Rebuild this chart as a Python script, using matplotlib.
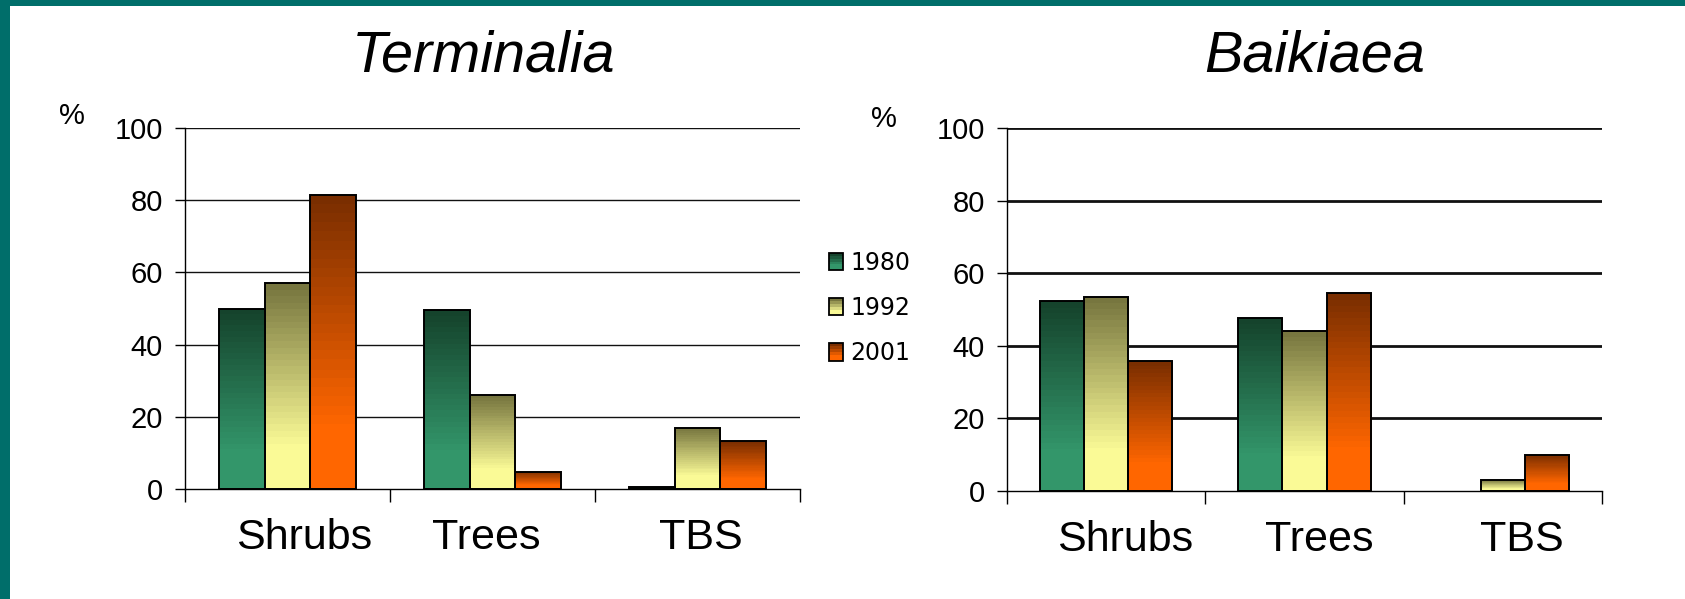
import numpy as np
import matplotlib
matplotlib.use("Agg")
import matplotlib.pyplot as plt
import matplotlib.transforms as mtransforms
from matplotlib.patches import Rectangle, Patch
from matplotlib.colors import LinearSegmentedColormap
from matplotlib.legend_handler import HandlerBase

# data
categories = ["Shrubs", "Trees", "TBS"]
years = ["1980", "1992", "2001"]
terminalia_1980 = [50, 49.5, 0.5]
terminalia_1992 = [57, 26, 17]
terminalia_2001 = [81.5, 4.8, 13.2]
baikiaea_1980 = [52.3, 47.6, 0]
baikiaea_1992 = [53.5, 44, 3]
baikiaea_2001 = [35.7, 54.5, 10]

# gradient colours, top -> bottom
grad_colors = {
    "1980": ("#15432C", "#33966A"),
    "1992": ("#77763F", "#FAFA96"),
    "2001": ("#7A2E00", "#FF6600"),
}
cmaps = {y: LinearSegmentedColormap.from_list(y, [(0, c[0]), (0.8, c[1]), (1, c[1])], N=32)
         for y, c in grad_colors.items()}

plt.rcParams["font.family"] = "Liberation Sans"


def grad_bar(ax, x, h, w, cmap):
    if h <= 0:
        return
    bar = ax.bar(x, h, w, facecolor="none", edgecolor="black", lw=1.4, zorder=3)[0]
    grad = np.linspace(0, 1, 200).reshape(-1, 1)
    im = ax.imshow(grad, cmap=cmap, extent=[x - w / 2, x + w / 2, 0, h],
                   aspect="auto", origin="upper", zorder=2, interpolation="nearest")
    im.set_clip_path(bar)


def draw_chart(ax, series, grid_lw, label_shift):
    n = len(series)
    w = (2 / 3) / n
    xs = np.arange(len(categories)) + 0.5
    for i, (year, vals) in enumerate(series):
        for x, v in zip(xs, vals):
            grad_bar(ax, x - 1 / 3 + w / 2 + i * w, v, w, cmaps[year])
    ax.set_xlim(0, len(categories))
    ax.set_ylim(0, 100)
    ax.set_yticks(range(0, 101, 20))
    for y in range(20, 101, 20):
        ax.axhline(y, color="#111111", lw=grid_lw, zorder=1)
    ax.set_xticks(xs)
    ax.set_xticklabels(categories, fontsize=31)
    ax.set_xticks(range(len(categories) + 1), minor=True)
    ax.tick_params(axis="x", which="major", length=0, pad=21)
    ax.tick_params(axis="x", which="minor", length=9, width=1, direction="out")
    ax.tick_params(axis="y", length=7, width=1, labelsize=21, pad=9)
    for lbl, dx in zip(ax.get_xticklabels(), label_shift):
        lbl.set_transform(lbl.get_transform() +
                          mtransforms.ScaledTranslation(dx / 100, 0, fig.dpi_scale_trans))
    for s in ["top", "right"]:
        ax.spines[s].set_visible(False)
    ax.spines["left"].set_linewidth(1)
    ax.spines["bottom"].set_linewidth(1)
    ax.spines["bottom"].set_zorder(4)


class GradientHandler(HandlerBase):
    def create_artists(self, legend, orig_handle, xdescent, ydescent,
                       width, height, fontsize, trans):
        cmap = orig_handle.grad_cmap
        arts = []
        n = 6
        for i in range(n):
            arts.append(Rectangle((-xdescent, -ydescent + height * (1 - (i + 1) / n)),
                                  width, height / n, facecolor=cmap(i / (n - 1)),
                                  edgecolor="none", transform=trans))
        arts.append(Rectangle((-xdescent, -ydescent), width, height, facecolor="none",
                              edgecolor="black", lw=1.3, transform=trans))
        return arts


fig = plt.figure(figsize=(16.85, 5.99), dpi=100)

# teal slide frame
fig.patches.append(Rectangle((0, 1 - 6 / 599), 1, 6 / 599, transform=fig.transFigure,
                             facecolor="#006E6A", edgecolor="none"))
fig.patches.append(Rectangle((0, 0), 10 / 1685, 1, transform=fig.transFigure,
                             facecolor="#006E6A", edgecolor="none"))

ax1 = fig.add_axes([185 / 1685, 1 - 489 / 599, 615 / 1685, 361 / 599])
ax2 = fig.add_axes([1007 / 1685, 1 - 491 / 599, 595 / 1685, 363 / 599])

draw_chart(ax1, [("1980", terminalia_1980), ("1992", terminalia_1992),
                 ("2001", terminalia_2001)], 1.0, [17, -6, 3])
draw_chart(ax2, [("1980", baikiaea_1980), ("1992", baikiaea_1992),
                 ("2001", baikiaea_2001)], 2.0, [19, 15, 19])

fig.text(484 / 1685, 1 - 57 / 599, "Terminalia", fontsize=41.5, style="italic",
         ha="center", va="center")
fig.text(1315 / 1685, 1 - 57 / 599, "Baikiaea", fontsize=41.5, style="italic",
         ha="center", va="center")
fig.text(72 / 1685, 1 - 116 / 599, "%", fontsize=21, ha="center", va="center")
fig.text(884 / 1685, 1 - 119 / 599, "%", fontsize=21, ha="center", va="center")

handles = []
hmap = {}
for y in years:
    p = Patch()
    p.grad_cmap = cmaps[y]
    handles.append(p)
    hmap[p] = GradientHandler()
fig.legend(handles, years, handler_map=hmap, loc="center left",
           bbox_to_anchor=(829 / 1685, 1 - 308 / 599), frameon=False,
           prop={"family": "DejaVu Sans", "size": 17}, handlelength=0.6,
           handleheight=0.75, handletextpad=0.3, labelspacing=0.9,
           borderpad=0, borderaxespad=0)

fig.savefig("out.png", dpi=100)
